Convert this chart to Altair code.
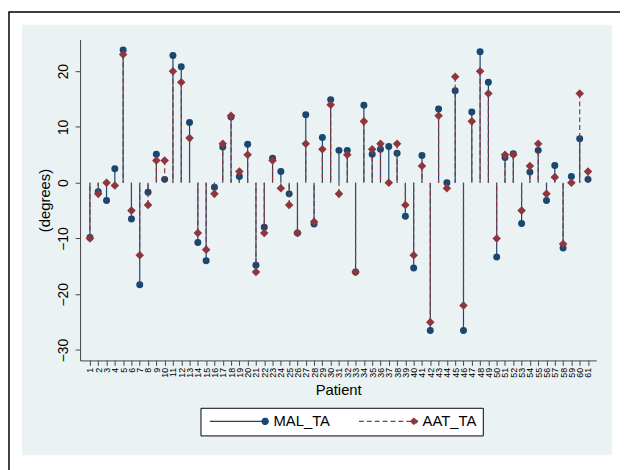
import math
import altair as alt
import pandas as pd

# ---------------- data ----------------
PATIENTS = list(range(1, 62))
SERIES = ["MAL_TA", "AAT_TA"]
MAL_TA = [-9.8, -1.6, -3.2, 2.5, 23.8, -6.5, -18.3, -1.7, 5.1, 0.6,
          22.8, 20.8, 10.8, -10.7, -14.0, -0.8, 6.4, 11.8, 1.1, 6.9,
          -14.8, -8.0, 4.4, 2.0, -2.0, -9.0, 12.2, -7.4, 8.1, 14.9,
          5.8, 5.8, -16.0, 13.9, 5.1, 6.0, 6.5, 5.3, -6.0, -15.3,
          4.9, -26.5, 13.2, 0.0, 16.5, -26.5, 12.7, 23.5, 18.0, -13.3,
          4.5, 5.2, -7.3, 1.9, 5.8, -3.2, 3.1, -11.7, 1.1, 7.9, 0.6]
AAT_TA = [-10, -2, 0, -0.5, 23, -5, -13, -4, 4, 4,
          20, 18, 8, -9, -12, -2, 7, 12, 2, 5,
          -16, -9, 4, -1, -4, -9, 7, -7, 6, 14,
          -2, 5, -16, 11, 6, 7, 0, 7, -4, -13,
          3, -25, 12, -1, 19, -22, 11, 20, 16, -10,
          5, 5, -5, 3, 7, -2, 1, -11, 0, 16, 2]
Y_TICKS = [-30, -20, -10, 0, 10, 20]

# ---------------- styles ----------------
COLORS = ["#1a476f", "#90353b"]
DASHES = [[1, 0], [5, 3]]
BG = "#eaf2f3"
FONT = "Liberation Sans"
W, H = 523, 325

df_mal = pd.DataFrame({"patient": PATIENTS, "value": MAL_TA})
df_aat = pd.DataFrame({"patient": PATIENTS, "value": AAT_TA})
df_leg = pd.DataFrame({"series": SERIES})

x_scale = alt.Scale(domain=[-0.19, 62.0], nice=False, zero=False)
y_scale = alt.Scale(domain=[-31.86, 25.66], nice=False, zero=False)

x_axis = alt.Axis(values=PATIENTS, labelAngle=270, labelFontSize=9, tickSize=5,
                  labelPadding=2, grid=False, labelOverlap=False, labelFlush=False,
                  title="Patient", titleFontSize=15, titleFontWeight="normal",
                  titleBaseline="alphabetic", titleY=35,
                  domainColor="#444444", tickColor="#444444", labelColor="black",
                  titleColor="black")
y_axis = alt.Axis(values=Y_TICKS, labelAngle=270, labelAlign="center",
                  labelBaseline="alphabetic", labelPadding=8, labelFontSize=14,
                  tickSize=5, grid=True, gridColor=BG, gridWidth=1.5,
                  labelFlush=False, title="(degrees)", titleFontSize=15,
                  titleFontWeight="normal", titleAngle=270, titleAlign="center",
                  titleBaseline="alphabetic", titleX=-31, titleY=H / 2,
                  domainColor="#444444", tickColor="#444444", labelColor="black",
                  titleColor="black")

X = alt.X("patient:Q", scale=x_scale, axis=x_axis)
Y = alt.Y("value:Q", scale=y_scale, axis=y_axis)


def stem_and_marker(data, color, dash, shape, size):
    stem = alt.Chart(data).mark_rule(color=color, strokeWidth=1.2, strokeDash=dash).encode(
        x=X, y=Y, y2=alt.datum(0))
    mark = alt.Chart(data).mark_point(filled=True, opacity=1, color=color,
                                      shape=shape, size=size).encode(x=X, y=Y)
    return stem, mark


stem_mal, pt_mal = stem_and_marker(df_mal, COLORS[0], DASHES[0], "circle", 50)
stem_aat, pt_aat = stem_and_marker(df_aat, COLORS[1], DASHES[1], "diamond", 75)


# legend symbols: line segment ending in the marker (path units = sqrt(size)/2 px)
def poly(r, n=20):
    pts = [(r * math.cos(2 * math.pi * i / n), r * math.sin(2 * math.pi * i / n))
           for i in range(n)]
    return "M" + "L".join(f"{x:.3f},{y:.3f}" for x, y in pts) + "Z"


P_MAL = "M-14,0L-0.8,0" + poly(0.8)
P_AAT = "M-14,0L-0.9,0M-0.9,0L0,-0.9L0.9,0L0,0.9Z"

legend = alt.Legend(
    orient="none", legendX=122, legendY=373, direction="horizontal", title=None,
    padding=6, strokeColor="black", fillColor="white", columnPadding=25,
    labelFontSize=15, labelFont=FONT, labelColor="black", labelLimit=200,
    symbolSize=64, symbolOffset=52, labelOffset=1, symbolStrokeWidth=1.1,
)

# legend-only layer: no rows drawn, entries come from the explicit scale domains
leg = alt.Chart(df_leg).transform_filter("false").mark_point(filled=True, opacity=1).encode(
    fill=alt.Fill("series:N", scale=alt.Scale(domain=SERIES, range=COLORS), legend=legend),
    stroke=alt.Stroke("series:N", scale=alt.Scale(domain=SERIES, range=COLORS), legend=legend),
    shape=alt.Shape("series:N", scale=alt.Scale(domain=SERIES, range=[P_MAL, P_AAT]),
                    legend=legend),
    strokeDash=alt.StrokeDash("series:N", scale=alt.Scale(domain=SERIES, range=DASHES),
                              legend=legend),
)

deco = alt.Chart(pd.DataFrame({"k": [0]}))
band = deco.mark_rect(fill="transparent", stroke="white", strokeWidth=28).encode(
    x=alt.value(-73), x2=alt.value(553), y=alt.value(-29), y2=alt.value(435))
frame = deco.mark_rect(fill="transparent", stroke="black", strokeWidth=1.5).encode(
    x=alt.value(-72), x2=alt.value(800), y=alt.value(-28), y2=alt.value(800))

chart = alt.layer(band, frame, stem_mal, pt_mal, stem_aat, pt_aat, leg).properties(
    width=W, height=H,
    padding={"left": 73, "top": 29, "right": 24, "bottom": 108},
    autosize=alt.AutoSizeParams(type="none"),
    background=BG,
).configure(font=FONT).configure_view(fill="white", stroke="transparent")

chart.save("out.html", embed_options={"renderer": "svg", "actions": False})
